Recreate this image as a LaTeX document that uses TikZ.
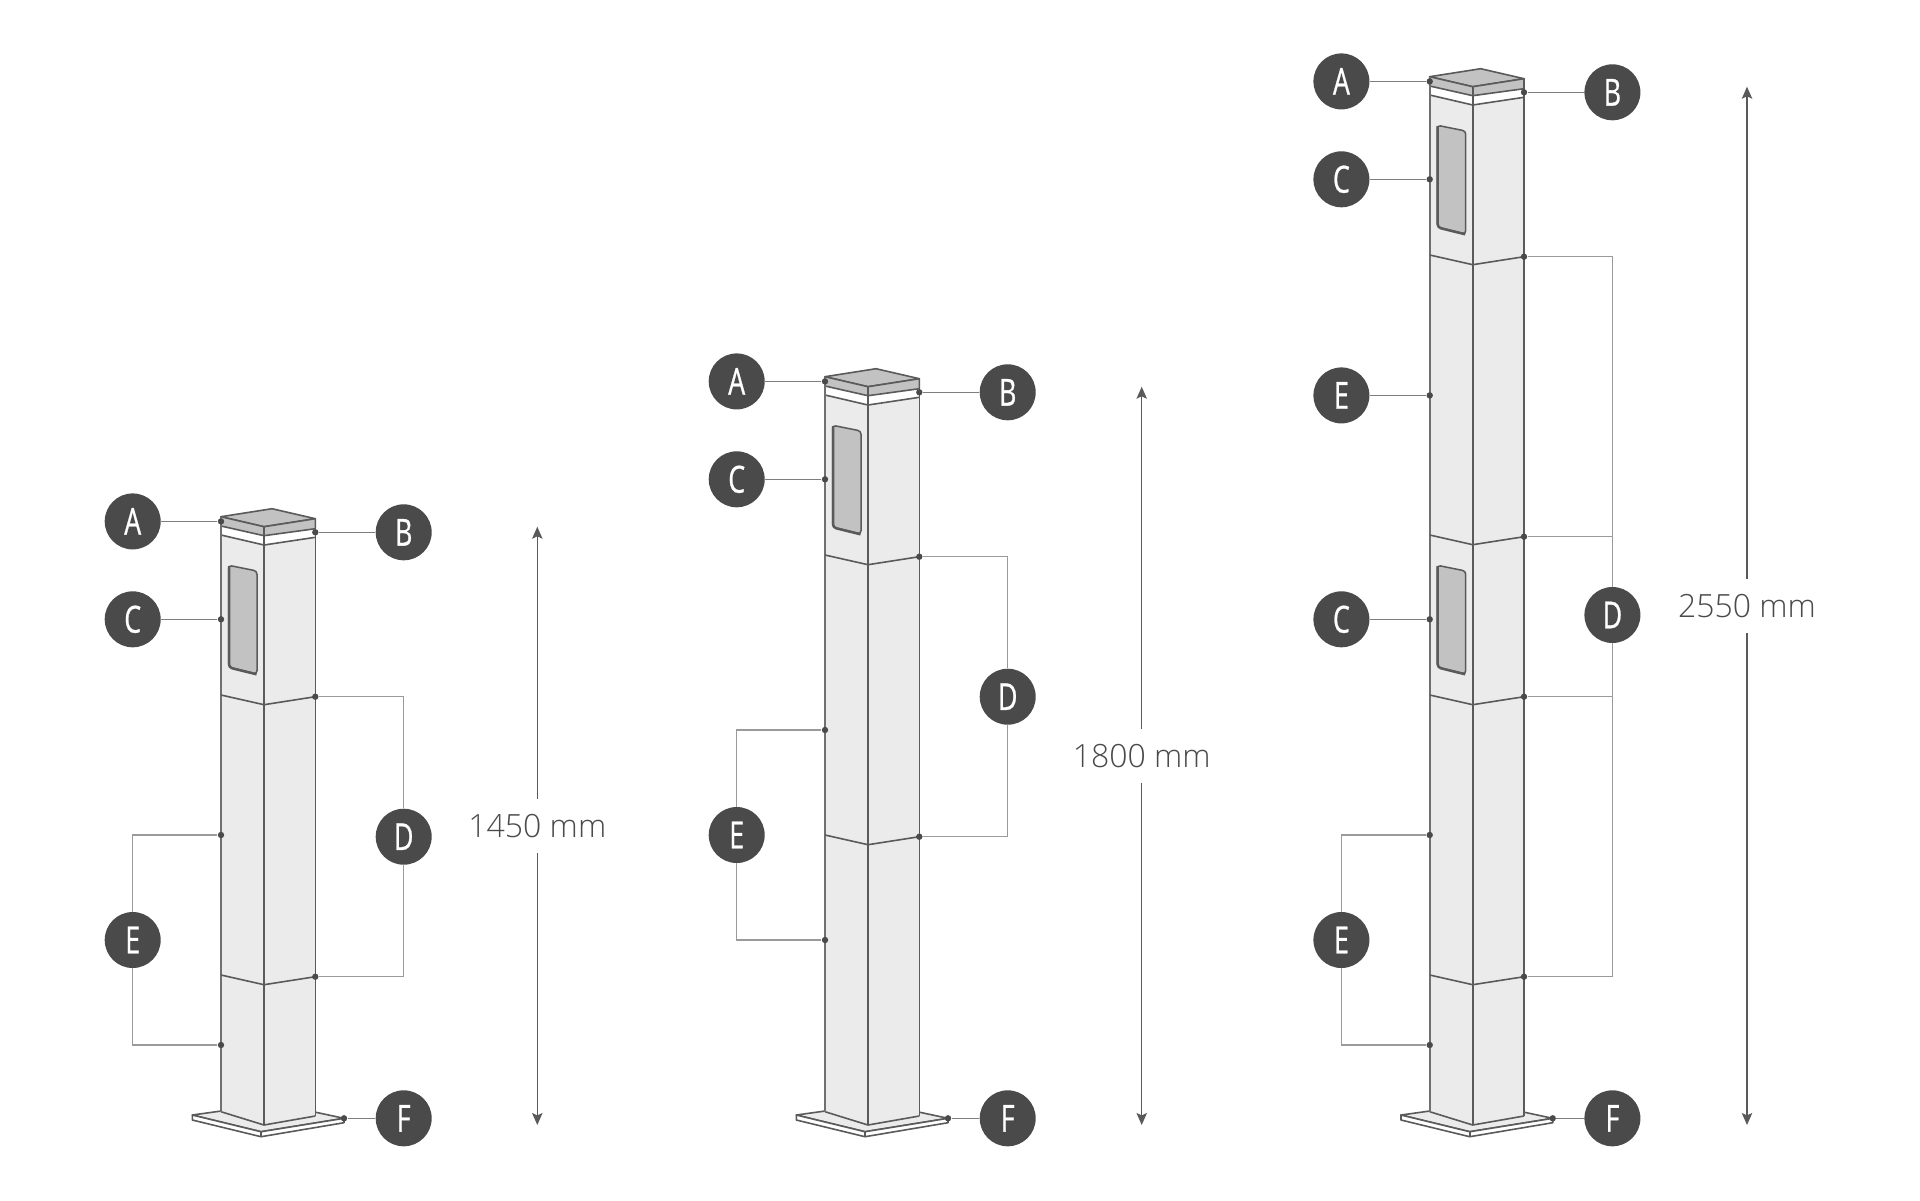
\documentclass[tikz,border=0pt]{standalone}
\usepackage{fontspec}
\usetikzlibrary{arrows.meta}
\setmainfont{Open Sans}
\newfontfamily\badgefont[FakeBold=0.9]{Open Sans}
\newfontfamily\dimfont[UprightFont=* Light]{Open Sans}
\definecolor{ink}{HTML}{4A4A4A}
\definecolor{edge}{HTML}{5A5A5A}
\definecolor{edgeL}{HTML}{707070}
\definecolor{bodyfill}{HTML}{EBEBEB}
\definecolor{capfill}{HTML}{C2C2C2}
\definecolor{leader}{HTML}{7E7E7E}
\definecolor{bracket}{HTML}{9A9A9A}
\tikzset{
  outline/.style={draw=edge,line width=0.8pt,line join=round},
  leftedge/.style={draw=edgeL,line width=1pt},
  badge/.style={circle,fill=ink,minimum size=28pt,inner sep=0pt,text=white,font=\badgefont\fontsize{18.6}{20}\selectfont},
  pin/.style={circle,fill=ink,minimum size=3.2pt,inner sep=0pt},
  leadline/.style={draw=leader,line width=0.65pt},
  brack/.style={draw=bracket,line width=0.65pt},
  dimlabel/.style={minimum height=26.5pt,inner sep=0pt,text=ink,font=\dimfont\fontsize{16}{18}\selectfont},
  dimline/.style={draw=edge,line width=0.7pt,-{Stealth[length=6pt,width=5.2pt,inset=1.2pt]}},
}
\newcommand{\badgeat}[4]{\node[badge] (#1) at (#2,#3) {\scalebox{0.72}[1]{#4}};}
\newcommand{\pinat}[3]{\node[pin] (#1) at (#2,#3) {};}
\newcommand{\postshape}[2]{%
  \begin{scope}[shift={(#1,0)}]
    % base plate
    \filldraw[fill=bodyfill,outline] (192.3,1115) -- (275,1103.5) -- (344,1118.3) -- (261,1131.7) -- cycle;
    \filldraw[fill=white,outline] (192.3,1115) -- (192.3,1120) -- (261,1136.7) -- (344,1122.7) -- (344,1118.3) -- (261,1131.7) -- cycle;
    \draw[outline] (261,1131.7) -- (261,1136.7);
    % shaft
    \fill[bodyfill] (221,{535+#2}) -- (264,{545+#2}) -- (315.3,{537.3+#2}) -- (315.3,1116) -- (264,1125) -- (221,1111.7) -- cycle;
    \draw[outline] (221,{535+#2}) -- (264,{545+#2}) -- (315.3,{537.3+#2});
    \draw[outline] (221,1111.7) -- (264,1125) -- (315.3,1116);
    % cap
    \filldraw[fill=capfill,outline] (221,{516.7+#2}) -- (272,{508.7+#2}) -- (315.3,{518.7+#2}) -- (264,{526.7+#2}) -- cycle;
    \filldraw[fill=capfill,outline] (221,{516.7+#2}) -- (264,{526.7+#2}) -- (315.3,{518.7+#2}) -- (315.3,{528.7+#2}) -- (264,{535.7+#2}) -- (221,{526+#2}) -- cycle;
    % vertical edges
    \draw[leftedge] (221,{516.7+#2}) -- (221,1111.7);
    \draw[outline] (264,{526.7+#2}) -- (264,1125);
    \draw[outline] (315.3,{518.7+#2}) -- (315.3,1116);
  \end{scope}}
\newcommand{\seamat}[2]{%
  \draw[outline] ({221+#1},{#2-1.7}) -- ({264+#1},{#2+8}) -- ({315.3+#1},#2);}
\newcommand{\windowat}[2]{%
  \begin{scope}[shift={(#1,#2)}]
    \filldraw[fill=capfill,outline,line width=0.75pt,rounded corners=1.6pt] (228.6,565.3) -- (257,571) -- (257,674) -- (228.6,667) -- cycle;
    \draw[draw=edge,line width=1.25pt,rounded corners=1.6pt] (229,566) -- (229,667.5) -- (256.5,674.3);
  \end{scope}}
\begin{document}
\begin{tikzpicture}[x=0.5pt,y=-0.5pt]
\useasboundingbox (0,0) rectangle (1920,1200);
% posts
\postshape{0}{0}
\seamat{0}{696.7}\seamat{0}{976.7}
\windowat{0}{0}
\postshape{604}{-140}
\seamat{604}{556.7}\seamat{604}{836.7}
\windowat{604}{-140}
\postshape{1208.7}{-440}
\seamat{1208.7}{256.7}\seamat{1208.7}{536.7}\seamat{1208.7}{696.7}\seamat{1208.7}{976.7}
\windowat{1208.7}{-440}\windowat{1208.7}{0}
% post 1 labels
\badgeat{a1}{132.7}{521.4}{A}\pinat{pa1}{221}{521.4}
\badgeat{b1}{403.7}{532.3}{B}\pinat{pb1}{315.3}{532.3}
\badgeat{c1}{132.7}{619.3}{C}\pinat{pc1}{221}{619.3}
\badgeat{d1}{403.7}{836.7}{D}\pinat{pd1u}{315.3}{696.7}\pinat{pd1l}{315.3}{976.7}
\badgeat{e1}{132.7}{940}{E}\pinat{pe1u}{221}{835}\pinat{pe1l}{221}{1045}
\badgeat{f1}{403.7}{1118.3}{F}\pinat{pf1}{344}{1118.3}
% post 2 labels
\badgeat{a2}{736.7}{381.4}{A}\pinat{pa2}{825}{381.4}
\badgeat{b2}{1007.7}{392.3}{B}\pinat{pb2}{919.3}{392.3}
\badgeat{c2}{736.7}{479.3}{C}\pinat{pc2}{825}{479.3}
\badgeat{d2}{1007.7}{696.7}{D}\pinat{pd2u}{919.3}{556.7}\pinat{pd2l}{919.3}{836.7}
\badgeat{e2}{736.7}{835}{E}\pinat{pe2u}{825}{730}\pinat{pe2l}{825}{940}
\badgeat{f2}{1007.7}{1118.3}{F}\pinat{pf2}{948}{1118.3}
% post 3 labels
\badgeat{a3}{1341.4}{81.4}{A}\pinat{pa3}{1429.7}{81.4}
\badgeat{b3}{1612.4}{92.3}{B}\pinat{pb3}{1524}{92.3}
\badgeat{c3}{1341.4}{179.3}{C}\pinat{pc3}{1429.7}{179.3}
\badgeat{e3}{1341.4}{395.4}{E}\pinat{pe3}{1429.7}{395.4}
\badgeat{cc3}{1341.4}{619.3}{C}\pinat{pcc3}{1429.7}{619.3}
\badgeat{d3}{1612.4}{615}{D}
\pinat{pd3a}{1524}{256.7}\pinat{pd3b}{1524}{536.7}\pinat{pd3c}{1524}{696.7}\pinat{pd3d}{1524}{976.7}
\badgeat{ee3}{1341.4}{940}{E}\pinat{pee3u}{1429.7}{835}\pinat{pee3l}{1429.7}{1045}
\badgeat{f3}{1612.4}{1118.3}{F}\pinat{pf3}{1552.7}{1118.3}
% connectors
\foreach \s/\t in {a1/pa1,b1/pb1,c1/pc1,f1/pf1,a2/pa2,b2/pb2,c2/pc2,f2/pf2,a3/pa3,b3/pb3,c3/pc3,e3/pe3,cc3/pcc3,f3/pf3}
  \draw[leadline] (\s) -- (\t);
\foreach \s/\t in {d1/pd1u,d1/pd1l,e1/pe1u,e1/pe1l,d2/pd2u,d2/pd2l,e2/pe2u,e2/pe2l,d3/pd3a,d3/pd3b,d3/pd3c,d3/pd3d,ee3/pee3u,ee3/pee3l}
  \draw[brack] (\s) |- (\t);
% dimensions
\node[dimlabel] (h1) at (537.3,826) {1450 mm};
\node[dimlabel] (h2) at (1141.7,756) {1800 mm};
\node[dimlabel] (h3) at (1747,606) {2550 mm};
\coordinate (h1t) at (537.3,526.7);\coordinate (h1b) at (537.3,1125);
\coordinate (h2t) at (1141.7,386.7);\coordinate (h2b) at (1141.7,1125);
\coordinate (h3t) at (1747,86.7);\coordinate (h3b) at (1747,1125);
\foreach \n in {h1,h2,h3}{
  \draw[dimline] (\n.north) -- (\n t);
  \draw[dimline] (\n.south) -- (\n b);
}
\end{tikzpicture}
\end{document}
